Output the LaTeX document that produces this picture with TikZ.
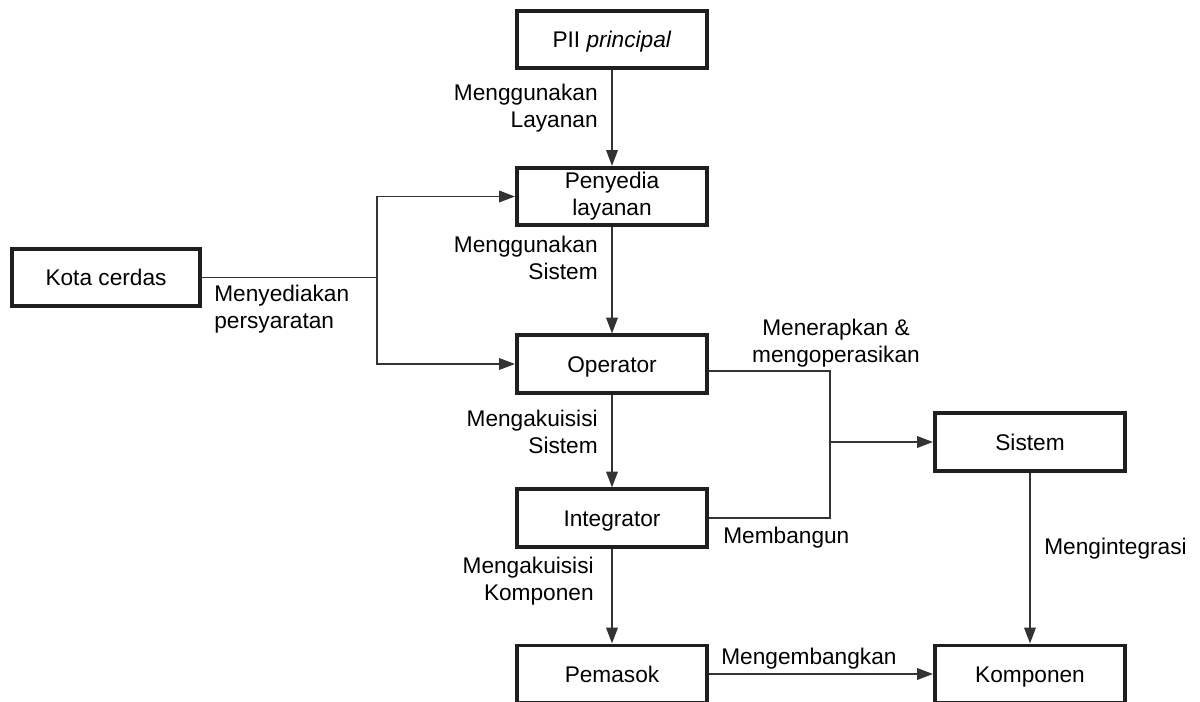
\documentclass[tikz,border=0pt]{standalone}
\usepackage{fontspec}
\setmainfont{Liberation Sans}
\usetikzlibrary{arrows.meta}
\newcommand{\diagfont}{\fontsize{12.9pt}{15.4pt}\selectfont}
% invisible rule that centres capital letters in a box
\newcommand{\capstrut}{\rule[-2.8pt]{0pt}{14.8pt}}
\begin{document}
\begin{tikzpicture}[x=0.02cm, y=-0.02cm,
  box/.style={draw=black!88, line width=2pt, fill=white,
    minimum width=3.81cm, minimum height=1.15cm, inner sep=0pt,
    align=center, font=\diagfont, execute at begin node={\capstrut}},
  conn/.style={draw=black!80, line width=1.1pt},
  arr/.style={conn, -{Triangle[length=9pt, width=6.5pt]}},
  lbl/.style={font=\diagfont, inner sep=0pt}]
\useasboundingbox[fill=white] (0,0) rectangle (1200,702);

% boxes
\node[box] (pii)   at (612,39.5)  {PII \textit{principal}};
\node[box] (prov)  at (612,196.5) {Penyedia\\layanan};
\node[box, minimum width=3.77cm] (city) at (106,277.5) {Kota cerdas};
\node[box] (op)    at (612,364)   {Operator};
\node[box] (integ) at (612,518)   {Integrator};
\node[box] (sys)   at (1030,442)  {Sistem};
\node[box] (supp)  at (612,674)   {Pemasok};
\node[box] (comp)  at (1030,674)  {Komponen};

% vertical chain
\draw[arr] (pii) -- (prov);
\draw[arr] (prov) -- (op);
\draw[arr] (op) -- (integ);
\draw[arr] (integ) -- (supp);

% requirements from the city
\coordinate (kj) at (377,277.5);
\draw[conn] (city.east) -- (kj);
\draw[arr] (kj) |- (prov.west);
\draw[arr] (kj) |- (op.west);

% operator and integrator feed the system
\coordinate (oj) at (830,371);
\coordinate (sj) at (830,442);
\draw[conn] (op.east |- oj) -- (oj) |- (integ.east);
\draw[arr] (sj) -- (sys.west);

\draw[arr] (sys) -- (comp);
\draw[arr] (supp) -- (comp);

% connector labels
\node[lbl, anchor=east, align=right] (l1) at (598,108) {Menggunakan\\Layanan};
\node[lbl, anchor=east, align=right] (l2) at (598,258) {Menggunakan\\Sistem};
\node[lbl, anchor=west, align=left]  (l3) at (214,309) {Menyediakan\\persyaratan};
\node[lbl, align=center]             (l4) at (836,343) {Menerapkan \&\\mengoperasikan};
\node[lbl, anchor=east, align=right] (l5) at (598,432) {Mengakuisisi\\Sistem};
\node[lbl, anchor=west]              (l6) at (723,538) {Membangun};
\node[lbl, anchor=east, align=right] (l7) at (594,581) {Mengakuisisi\\Komponen};
\node[lbl, anchor=west]              (l8) at (1044,549) {Mengintegrasi};
\node[lbl, anchor=west]              (l9) at (721,659) {Mengembangkan};
\end{tikzpicture}
\end{document}
